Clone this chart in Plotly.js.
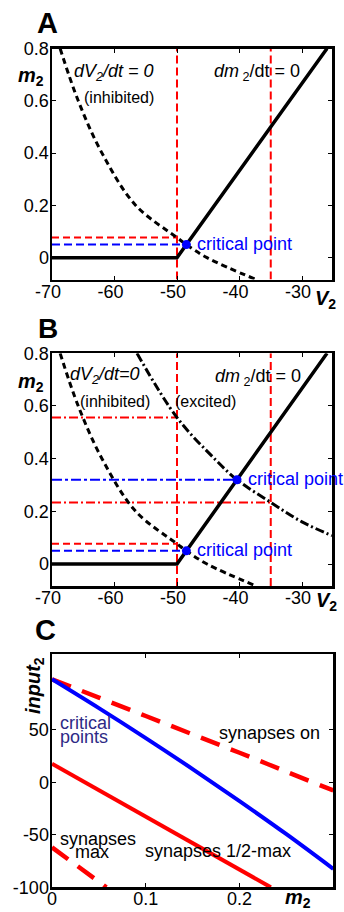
<!DOCTYPE html>
<html>
<head>
<meta charset="utf-8">
<script src="https://cdn.plot.ly/plotly-3.0.1.min.js"></script>
<style>
  html, body { margin: 0; padding: 0; background: #fff; }
  #fig { width: 344px; height: 912px; }
</style>
</head>
<body>
<div id="fig"></div>
<script>
// ---------- Panels A & B: (V2, m2) phase plane ----------
const vTicks = [-70, -60, -50, -40, -30];
const vTickText = ['-70', '-60', '-50', '-40', '-30'];
const mTicks = [0, 0.2, 0.4, 0.6, 0.8];
const mTickText = ['0', '0.2', '0.4', '0.6', '0.8'];
const vRange = [-70, -25.2];
const mRange = [-0.0834, 0.8];

// dm2/dt = 0 nullcline
const mNullV = [-70, -50, -26];
const mNullM = [0, 0, 0.8];

// dV2/dt = 0 nullcline, inhibited
const inhV = [-68.7, -65.8, -62.0, -56.6, -50.0, -48.5, -45.2, -37.3];
const inhM = [0.8, 0.6, 0.4, 0.2, 0.077, 0.05, 0, -0.084];

// dV2/dt = 0 nullcline, excited
const excV = [-56.4, -50.0, -43.8, -40.4, -35.0, -30.0, -25.2];
const excM = [0.8, 0.556, 0.395, 0.32, 0.234, 0.16, 0.108];

const vGuides = [-50, -35];
const inhAtGuide = 0.077;           // inhibited nullcline at -50 mV
const excAtGuides = [0.556, 0.234]; // excited nullcline at -50 and -35 mV

// critical points: inhibited, excited
const critV = [-48.5, -40.4];
const critM = [0.05, 0.32];

// ---------- Panel C: critical input vs m2 ----------
const m2Ticks = [0, 0.1, 0.2, 0.3];
const m2TickText = ['0', '0.1', '0.2', '0.3'];
const inTicks = [-100, -50, 0, 50];
const inTickText = ['-100', '-50', '0', '50'];
const m2Range = [0, 0.3];
const inRange = [-100, 122];

const m2Grid = [0, 0.05, 0.1, 0.15, 0.2, 0.25, 0.3];
const critInput = [98, 70.5, 42, 12.5, -18, -49.5, -82.5];
const onInput = [98, 80.5, 63, 45.5, 28, 10, -7.9];
const halfM = [0, 0.1, 0.2, 0.2334];
const halfInput = [17.5, -33, -83, -100];
const maxM = [0, 0.058];
const maxInput = [-62, -100];

// ---------- helpers ----------
const W = 344, H = 912;
const px = x => x / W;
const py = y => 1 - y / H;
const FONT = 'Liberation Sans, Arial, Helvetica, sans-serif';
const RED = '#ff0000', BLUE = '#0000ff', BLACK = '#000000', NAVY = '#2e2a86';

function line(xa, ya, x, y, color, width, dash, shape) {
  return {
    type: 'scatter', mode: 'lines', xaxis: xa, yaxis: ya, x: x, y: y,
    line: { color: color, width: width, dash: dash || 'solid', shape: shape || 'linear' },
    hoverinfo: 'skip'
  };
}

const traces = [];

function phasePanel(xa, ya, excited) {
  // vertical voltage guides
  vGuides.forEach(v => traces.push(line(xa, ya, [v, v], mRange, RED, 2, '8px,4px')));
  // level read-outs
  traces.push(line(xa, ya, [vRange[0], vGuides[0]], [inhAtGuide, inhAtGuide], RED, 2, '7px,4px'));
  traces.push(line(xa, ya, [vRange[0], critV[0]], [critM[0], critM[0]], BLUE, 2, '8px,4px'));
  if (excited) {
    traces.push(line(xa, ya, [vRange[0], vGuides[0]], [excAtGuides[0], excAtGuides[0]], RED, 2, '9px,3px,2px,3px'));
    traces.push(line(xa, ya, [vRange[0], vGuides[1]], [excAtGuides[1], excAtGuides[1]], RED, 2, '9px,3px,2px,3px'));
    traces.push(line(xa, ya, [vRange[0], critV[1]], [critM[1], critM[1]], BLUE, 2, '10px,3px,3px,3px'));
  }
  // nullclines
  traces.push(line(xa, ya, mNullV, mNullM, BLACK, 3.5));
  traces.push(line(xa, ya, inhV, inhM, BLACK, 3, '6px,4px', 'spline'));
  if (excited) traces.push(line(xa, ya, excV, excM, BLACK, 3, '9px,3px,2px,3px', 'spline'));
  // critical points
  const n = excited ? 2 : 1;
  traces.push({
    type: 'scatter', mode: 'markers', xaxis: xa, yaxis: ya,
    x: critV.slice(0, n), y: critM.slice(0, n),
    marker: { color: BLUE, size: 9 }, hoverinfo: 'skip', cliponaxis: false
  });
}

phasePanel('x', 'y', false);
phasePanel('x2', 'y2', true);

// Panel C
traces.push(line('x3', 'y3', m2Grid, onInput, RED, 4.5, '20px,12px', 'spline'));
traces.push(line('x3', 'y3', halfM, halfInput, RED, 4));
traces.push(line('x3', 'y3', maxM, maxInput, RED, 4.5, '20px,12px'));
traces.push(line('x3', 'y3', m2Grid, critInput, BLUE, 4, 'solid', 'spline'));

function axis(domain, range, tickvals, ticktext, anchor, extra) {
  return Object.assign({
    domain: domain, range: range, anchor: anchor,
    tickmode: 'array', tickvals: tickvals, ticktext: ticktext,
    showline: true, mirror: 'ticks', linecolor: BLACK, linewidth: 2.5,
    ticks: 'inside', ticklen: 4, tickwidth: 1, tickcolor: BLACK,
    showgrid: false, zeroline: false, fixedrange: true,
    tickfont: { family: FONT, size: 18, color: BLACK }
  }, extra || {});
}

const xDomAB = [px(52), px(332)];
const xDomC = [px(52), px(333.3)];
const xTickOpts = { ticklabelstandoff: -6, ticklabelshift: -4 };
const yTickOpts = { ticklabelstandoff: -3 };

function note(text, x, y, size, opts) {
  return Object.assign({
    text: text, xref: 'paper', yref: 'paper', x: px(x), y: py(y),
    xanchor: 'center', yanchor: 'middle', showarrow: false,
    font: { family: FONT, size: size, color: BLACK }
  }, opts || {});
}

function critNote(xa, ya, i) {
  return {
    text: 'critical point', xref: xa, yref: ya, x: critV[i], y: critM[i],
    xanchor: 'left', yanchor: 'middle', xshift: 9, yshift: 1, showarrow: false,
    font: { family: FONT, size: 18, color: BLUE }
  };
}

const annotations = [
  // Panel A
  note('<b>A</b>', 47.5, 23.5, 29),
  note('<b><i>m</i><sub>2</sub></b>', 31, 77, 20),
  note('<b><i>V</i><sub>2</sub></b>', 313, 299, 20, { xanchor: 'left' }),
  note('<i>dV<sub>2</sub>/dt = 0</i>', 114, 72, 18),
  note('(inhibited)', 119, 97.5, 16),
  note('<i>dm</i><sub> 2</sub>/dt = 0', 257, 72.5, 18),
  critNote('x', 'y', 0),
  // Panel B
  note('<b>B</b>', 47.5, 328.5, 28),
  note('<b><i>m</i><sub>2</sub></b>', 31, 383, 20),
  note('<b><i>V</i><sub>2</sub></b>', 314, 601, 20, { xanchor: 'left' }),
  note('<i>dV<sub>2</sub>/dt=0</i>', 105, 376, 18),
  note('(inhibited)', 115, 401.5, 16),
  note('(excited)', 206, 401.5, 16),
  note('<i>dm</i><sub> 2</sub>/dt = 0', 258, 377, 18),
  critNote('x2', 'y2', 1),
  critNote('x2', 'y2', 0),
  // Panel C
  note('<b>C</b>', 46, 630, 29),
  note('<b><i>input</i><sub>2</sub></b>', 34, 686, 20, { textangle: -90 }),
  note('<b><i>m</i><sub>2</sub></b>', 283, 898, 20, { xanchor: 'left' }),
  note('critical', 58, 723, 18, { xanchor: 'left', font: { family: FONT, size: 18, color: NAVY } }),
  note('points', 58, 737, 18, { xanchor: 'left', font: { family: FONT, size: 18, color: NAVY } }),
  note('synapses on', 269.7, 733, 18),
  note('synapses', 98, 838.5, 18),
  note('max', 92, 852, 18),
  note('synapses 1/2-max', 217.7, 850.5, 18)
];

const layout = {
  width: W, height: H,
  margin: { l: 0, r: 0, t: 0, b: 0, pad: 0 },
  paper_bgcolor: '#fff', plot_bgcolor: '#fff',
  showlegend: false,
  xaxis: axis(xDomAB, vRange, vTicks, vTickText, 'y', xTickOpts),
  yaxis: axis([py(279.5), py(48.5)], mRange, mTicks, mTickText, 'x', yTickOpts),
  xaxis2: axis(xDomAB, vRange, vTicks, vTickText, 'y2', xTickOpts),
  yaxis2: axis([py(586), py(353.3)], mRange, mTicks, mTickText, 'x2', yTickOpts),
  xaxis3: axis(xDomC, m2Range, m2Ticks, m2TickText, 'y3', { ticklabelstandoff: -6 }),
  yaxis3: axis([py(887.3), py(654)], inRange, inTicks, inTickText, 'x3', yTickOpts),
  annotations: annotations
};

Plotly.newPlot('fig', traces, layout, { displayModeBar: false, staticPlot: true });
</script>
</body>
</html>
